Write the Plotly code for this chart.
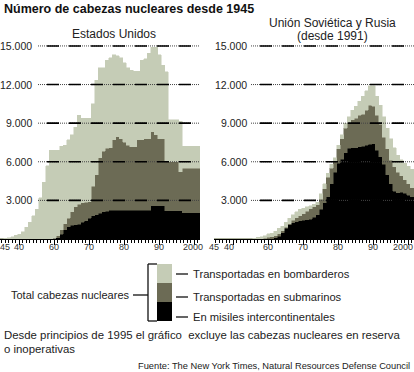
import plotly.graph_objects as go

W, H = 414, 372
years = list(range(1945, 2002))

us_icbm = [0]*14 + [20, 40, 80, 350, 700, 950, 1050, 1100, 1150, 1300, 1400, 1600, 1800, 1900, 2000, 2100, 2150] \
    + [2250]*12 + [2600]*4 + [2200]*5 + [2050]*5
us_sub = [0]*15 + [20, 170, 350, 500, 650, 1050, 1400, 1550, 1500, 1450,
                   1300, 2300, 3100, 4300, 4700, 4920, 4850, 5450, 5700, 5550,
                   5250, 5050, 4920, 4920, 5450, 5450, 5550, 5550, 5750, 5500,
                   5200, 5200, 3800, 3800, 3800, 3800, 3030, 3450, 3450, 3450,
                   3450, 3450]
us_bomb = [20, 50, 100, 170, 280, 350, 570, 900, 1300, 1800, 2300, 3200, 4400, 5700,
           6880, 6840, 6650, 6500, 6100, 6100, 6000, 6200, 6900, 6600,
           6550, 6500, 6400, 7350, 7000, 6500, 6830, 7000, 6600, 6300,
           6300, 6200, 6000, 5930, 5880, 5350, 6200, 6200, 6650, 6550,
           6800, 6500, 5700, 7000, 3250, 3250, 3250, 3920, 1700, 1700,
           1700, 1700, 1700]

su_icbm = [0]*16 + [20, 80, 200, 500, 850, 1100, 1250, 1350, 1400, 1450, 1500, 1550, 1700, 1900,
                    2300, 2800, 3300, 4300, 5200, 5900, 6200, 6700, 7050, 7100, 7100, 7150, 7200,
                    7300, 7350, 7400, 6900, 6400, 5800, 5000, 4300, 3700, 3600, 3650, 3550, 3400, 3300]
su_sub = [0]*13 + [30, 60, 120, 140, 170, 200, 150, 50, 100, 200, 300, 400, 500, 650, 800, 800,
                   750, 800, 1100, 1500, 1200, 800, 1100, 1600, 1900, 1950, 2150, 2300, 2450, 2500,
                   2700, 3050, 2900, 2700, 2500, 2100, 2000, 1800, 1900, 1600, 1250, 1050, 900, 700]
su_bomb = [0]*10 + [30, 60, 120, 150, 190, 270, 290, 350, 430, 350, 400, 400, 450, 450, 500, 450,
                    350, 250, 200, 200, 400, 400, 300, 300, 300, 300, 300, 400, 500, 750, 900, 1100,
                    1400, 1500, 1500, 1600, 1500, 1500, 1600, 1600, 1700, 1500, 1300, 1250, 1300,
                    1350, 1400]

series_names = ["En misiles intercontinentales", "Transportadas en submarinos", "Transportadas en bombarderos"]
colors = ["#000000", "#6c6b55", "#c5ccb6"]
ytick_vals = [3000, 6000, 9000, 12000, 15000]
ytick_text = ["3.000", "6.000", "9.000", "12.000", "15.000"]
xtick_vals = [1945, 1950, 1960, 1970, 1980, 1990, 2000]
xtick_text = ["45", "40", "60", "70", "80", "90", "2000"]

FONT = "Liberation Sans, Arial, Helvetica, sans-serif"

def px(x):
    return x / W

def py(y):
    return 1 - y / H

fig = go.Figure()
for (xa, ya, data) in [("x", "y", [us_icbm, us_sub, us_bomb]), ("x2", "y2", [su_icbm, su_sub, su_bomb])]:
    for vals, name, col in zip(data, series_names, colors):
        fig.add_trace(go.Bar(x=years, y=vals, name=name, xaxis=xa, yaxis=ya,
                             marker=dict(color=col, line=dict(color=col, width=0.5)),
                             width=1.0, showlegend=False, hoverinfo="skip"))

XR = [1944.5, 1944.5 + 200 / 3.5]
YR = [0, 16000]
ydom = [py(239), py(239 - 16000 / 77.7)]
axis_common = dict(range=XR, showgrid=False, zeroline=False, showline=True, linecolor="#000",
                   linewidth=1, ticks="outside", tickvals=[1950, 1960, 1970, 1980, 1990, 2000],
                   ticklen=5, tickcolor="#000", tickwidth=1, showticklabels=False,
                   minor=dict(dtick=1, tick0=1945, ticks="outside", ticklen=3, tickcolor="#000", tickwidth=1))
fig.update_layout(
    width=W, height=H, autosize=False,
    margin=dict(l=0, r=0, t=0, b=0),
    paper_bgcolor="white", plot_bgcolor="rgba(0,0,0,0)",
    barmode="stack", bargap=0,
    xaxis=dict(domain=[0, px(200)], anchor="y", **axis_common),
    xaxis2=dict(domain=[px(214), 1], anchor="y2", **axis_common),
    yaxis=dict(domain=ydom, range=YR, visible=False, anchor="x"),
    yaxis2=dict(domain=ydom, range=YR, visible=False, anchor="x2"),
    font=dict(family=FONT, color="#222"),
)

shapes = []
annotations = []
# gridlines (dotted + dashed overlay)
for yref, x0, x1 in [("y", px(38), px(200)), ("y2", px(251), 1.0)]:
    for v in ytick_vals:
        shapes.append(dict(type="line", xref="paper", yref=yref, x0=x0, x1=x1, y0=v, y1=v,
                           layer="above", line=dict(color="#444", width=1, dash="1px,1px")))
        shapes.append(dict(type="line", xref="paper", yref=yref, x0=x0, x1=x1, y0=v, y1=v,
                           layer="above", line=dict(color="#000", width=1.6, dash="0px,9px,12px,1px")))

# y tick labels
for yref, xr in [("y", px(34)), ("y2", px(249))]:
    for v, t in zip(ytick_vals, ytick_text):
        annotations.append(dict(text=t, xref="paper", yref=yref, x=xr, y=v, xanchor="right",
                                yanchor="middle", showarrow=False, font=dict(size=10.5, color="#222")))

# x tick labels (small pixel nudges as in the original artwork)
label_shift = {"x": {1945: 3, 2000: -1}, "x2": {1945: -2, 1950: -4, 2000: -5}}
for xref in ["x", "x2"]:
    for v, t in zip(xtick_vals, xtick_text):
        annotations.append(dict(text=t, xref=xref, yref="paper", x=v, y=py(247), xanchor="center",
                                yanchor="middle", showarrow=False, xshift=label_shift[xref].get(v, 0),
                                font=dict(size=9, color="#333")))

# titles
annotations += [
    dict(text="<b>Número de cabezas nucleares desde 1945</b>", xref="paper", yref="paper",
         x=px(2), y=py(9), xanchor="left", yanchor="middle", showarrow=False,
         font=dict(size=12.5, color="#111")),
    dict(text="Estados Unidos", xref="paper", yref="paper", x=px(114), y=py(34),
         xanchor="center", yanchor="middle", showarrow=False, font=dict(size=12, color="#222")),
    dict(text="Unión Soviética y Rusia", xref="paper", yref="paper", x=px(332), y=py(23),
         xanchor="center", yanchor="middle", showarrow=False, font=dict(size=12, color="#222")),
    dict(text="(desde 1991)", xref="paper", yref="paper", x=px(332), y=py(35.5),
         xanchor="center", yanchor="middle", showarrow=False, font=dict(size=12, color="#222")),
]

# legend
sw_x0, sw_x1 = px(157), px(172)
for (y0, y1), col in zip([(302, 321), (283, 302), (264, 283)], colors):
    shapes.append(dict(type="rect", xref="paper", yref="paper", x0=sw_x0, x1=sw_x1,
                       y0=py(y1), y1=py(y0), line=dict(width=0), fillcolor=col))
# bracket
for (x0, y0, x1, y1) in [(148, 264, 148, 321), (148, 264, 157, 264), (148, 321, 157, 321), (133, 295, 148, 295)]:
    shapes.append(dict(type="line", xref="paper", yref="paper", x0=px(x0), y0=py(y0), x1=px(x1), y1=py(y1),
                       line=dict(color="#111", width=1.3)))
annotations.append(dict(text="Total cabezas nucleares", xref="paper", yref="paper", x=px(132), y=py(295),
                        xanchor="right", yanchor="middle", showarrow=False, font=dict(size=11, color="#222")))
for name, yy in zip(series_names[::-1], [274, 297, 317]):
    shapes.append(dict(type="line", xref="paper", yref="paper", x0=px(176), x1=px(188), y0=py(yy), y1=py(yy),
                       line=dict(color="#111", width=1.3)))
    annotations.append(dict(text=name, xref="paper", yref="paper", x=px(191), y=py(yy),
                            xanchor="left", yanchor="middle", showarrow=False, font=dict(size=11.2, color="#222")))

# notes
annotations += [
    dict(text="Desde principios de 1995 el gráfico  excluye las cabezas nucleares en reserva",
         xref="paper", yref="paper", x=px(2), y=py(335), xanchor="left", yanchor="middle",
         showarrow=False, font=dict(size=11.4, color="#222")),
    dict(text="o inoperativas", xref="paper", yref="paper", x=px(2), y=py(349), xanchor="left",
         yanchor="middle", showarrow=False, font=dict(size=11.4, color="#222")),
    dict(text="Fuente: The New York Times, Natural Resources Defense Council", xref="paper", yref="paper",
         x=px(412), y=py(366), xanchor="right", yanchor="middle", showarrow=False,
         font=dict(size=9.3, color="#222")),
]

fig.update_layout(shapes=shapes, annotations=annotations)
fig.write_html("out.html", config={"displayModeBar": False, "staticPlot": True},
               post_script="document.body.style.margin='0';document.body.style.overflow='hidden';")
